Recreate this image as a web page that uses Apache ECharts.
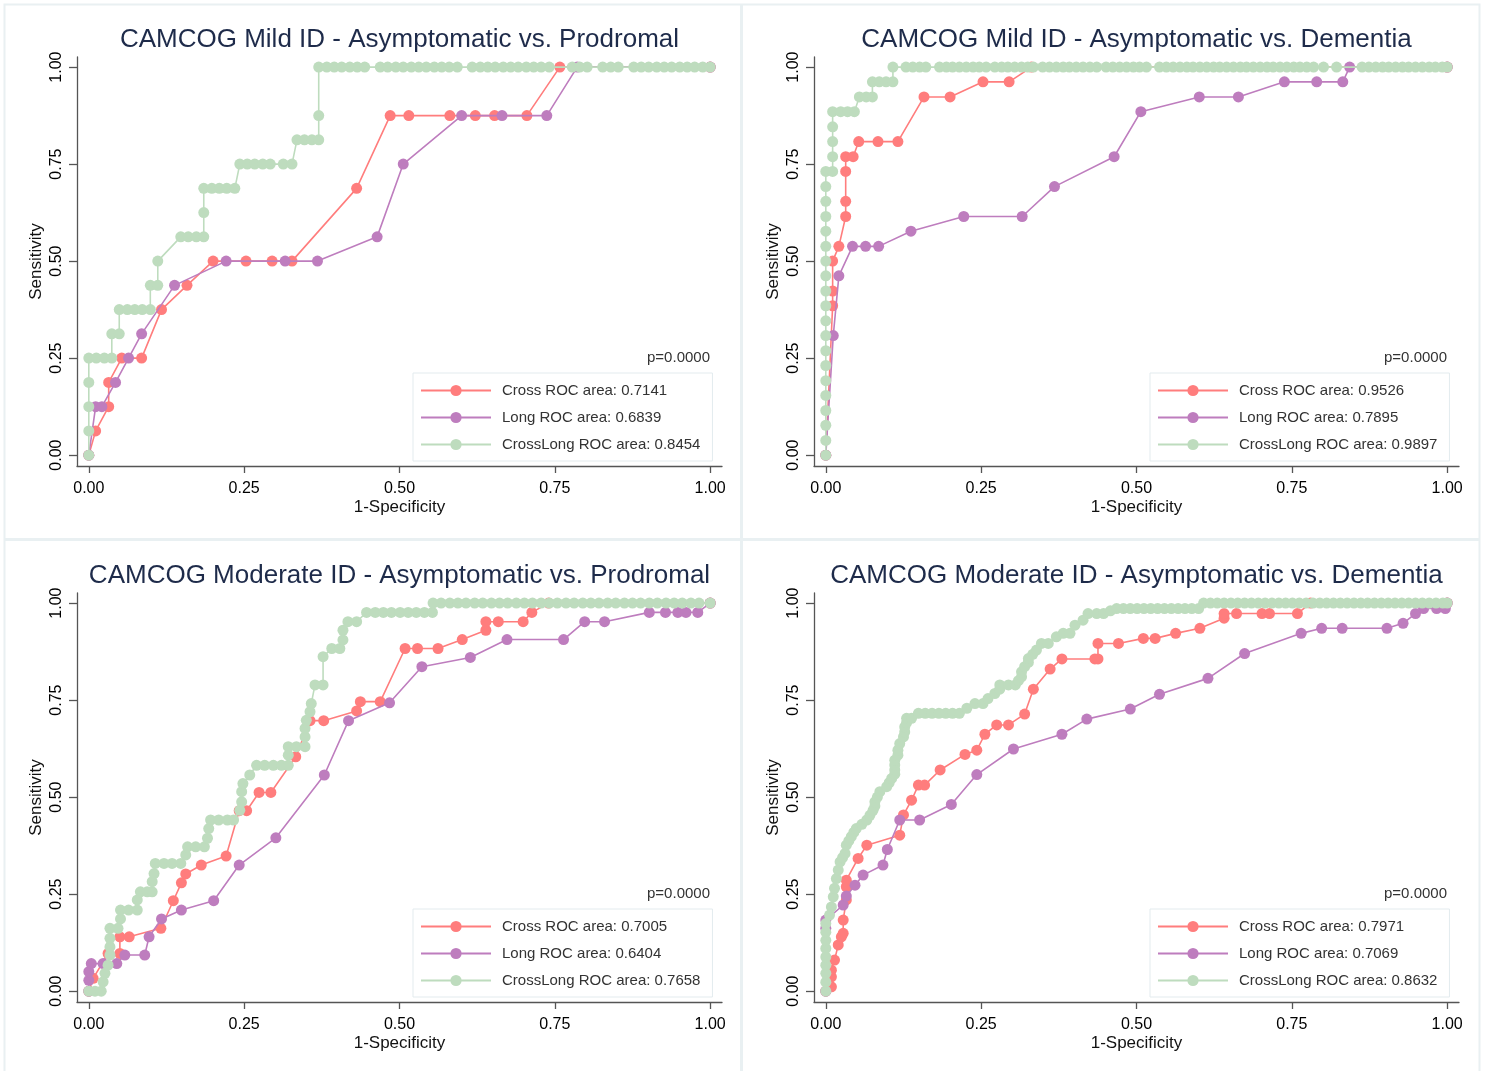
<!DOCTYPE html>
<html>
<head>
<meta charset="utf-8">
<script src="https://cdn.jsdelivr.net/npm/echarts@6/dist/echarts.min.js"></script>
<style>
html,body{margin:0;padding:0;background:#fff;}
#chart{width:1488px;height:1071px;}
</style>
</head>
<body>
<div id="chart"></div>
<script>
// ---------- Data ----------
const panelTitles = [
  'CAMCOG Mild ID - Asymptomatic vs. Prodromal',
  'CAMCOG Mild ID - Asymptomatic vs. Dementia',
  'CAMCOG Moderate ID - Asymptomatic vs. Prodromal',
  'CAMCOG Moderate ID - Asymptomatic vs. Dementia'
];
const crossAreas = ['0.7141', '0.9526', '0.7005', '0.7971'];
const longAreas = ['0.6839', '0.7895', '0.6404', '0.7069'];
const crossLongAreas = ['0.8454', '0.9897', '0.7658', '0.8632'];
const pValues = ['p=0.0000', 'p=0.0000', 'p=0.0000', 'p=0.0000'];
const tickValues = [0, 0.25, 0.5, 0.75, 1];

// Panel 1: Mild ID, Asymptomatic vs Prodromal  ([1-specificity, sensitivity])
const p1Cross = [[0,0],[0.011,0.0625],[0.032,0.125],[0.032,0.1875],[0.053,0.25],[0.085,0.25],[0.117,0.375],[0.158,0.4375],[0.2,0.5],[0.253,0.5],[0.295,0.5],[0.327,0.5],[0.431,0.6875],[0.485,0.875],[0.515,0.875],[0.581,0.875],[0.622,0.875],[0.653,0.875],[0.705,0.875],[0.758,1],[1,1]];
const p1Long = [[0,0],[0.011,0.125],[0.021,0.125],[0.043,0.1875],[0.064,0.25],[0.085,0.3125],[0.138,0.4375],[0.221,0.5],[0.316,0.5],[0.368,0.5],[0.464,0.5625],[0.506,0.75],[0.6,0.875],[0.665,0.875],[0.737,0.875],[0.786,1],[1,1]];
const p1CrossLong = [[0,0],[0,0.0625],[0,0.125],[0,0.1875],[0,0.25],[0.012,0.25],[0.025,0.25],[0.037,0.25],[0.037,0.3125],[0.049,0.3125],[0.049,0.375],[0.062,0.375],[0.074,0.375],[0.086,0.375],[0.099,0.375],[0.099,0.4375],[0.111,0.4375],[0.111,0.5],[0.148,0.5625],[0.16,0.5625],[0.173,0.5625],[0.185,0.5625],[0.185,0.625],[0.185,0.6875],[0.198,0.6875],[0.21,0.6875],[0.222,0.6875],[0.235,0.6875],[0.243,0.75],[0.255,0.75],[0.267,0.75],[0.28,0.75],[0.292,0.75],[0.313,0.75],[0.327,0.75],[0.335,0.8125],[0.347,0.8125],[0.359,0.8125],[0.37,0.8125],[0.37,0.875]];
const p1CrossLongTop = [0.37,0.383,0.395,0.407,0.42,0.432,0.444,0.469,0.481,0.494,0.506,0.519,0.531,0.543,0.556,0.568,0.58,0.593,0.617,0.63,0.642,0.654,0.667,0.679,0.691,0.704,0.716,0.728,0.741,0.778,0.79,0.802,0.827,0.84,0.852,0.877,0.889,0.901,0.914,0.926,0.938,0.951,0.963,0.975,0.988,1];

// Panel 2: Mild ID, Asymptomatic vs Dementia
const p2Cross = [[0,0],[0.011,0.385],[0.011,0.423],[0.011,0.5],[0.021,0.538],[0.032,0.615],[0.032,0.654],[0.032,0.731],[0.032,0.769],[0.044,0.769],[0.053,0.808],[0.084,0.808],[0.116,0.808],[0.158,0.923],[0.2,0.923],[0.253,0.962],[0.295,0.962],[0.331,1],[1,1]];
const p2Long = [[0,0],[0.012,0.308],[0.021,0.462],[0.043,0.538],[0.064,0.538],[0.085,0.538],[0.137,0.577],[0.222,0.615],[0.316,0.615],[0.368,0.692],[0.464,0.769],[0.507,0.885],[0.601,0.923],[0.664,0.923],[0.738,0.962],[0.79,0.962],[0.832,0.962],[0.843,1],[1,1]];
const p2CrossLong = [[0,0],[0,0.038],[0,0.077],[0,0.115],[0,0.154],[0,0.192],[0,0.231],[0,0.269],[0,0.308],[0,0.346],[0,0.385],[0,0.423],[0,0.462],[0,0.5],[0,0.538],[0,0.577],[0,0.615],[0,0.654],[0,0.692],[0,0.731],[0.011,0.731],[0.011,0.769],[0.011,0.808],[0.011,0.846],[0.011,0.885],[0.024,0.885],[0.035,0.885],[0.046,0.885],[0.054,0.923],[0.065,0.923],[0.075,0.923],[0.075,0.962],[0.086,0.962],[0.097,0.962],[0.108,0.962]];
const p2CrossLongTop = [0.108,0.129,0.14,0.151,0.161,0.183,0.194,0.204,0.215,0.226,0.237,0.247,0.258,0.272,0.283,0.293,0.304,0.315,0.325,0.334,0.349,0.36,0.371,0.382,0.392,0.403,0.414,0.425,0.436,0.451,0.462,0.473,0.484,0.495,0.505,0.516,0.537,0.548,0.559,0.57,0.581,0.591,0.602,0.613,0.624,0.634,0.645,0.656,0.667,0.677,0.688,0.699,0.71,0.72,0.731,0.742,0.753,0.763,0.774,0.785,0.801,0.822,0.863,0.874,0.885,0.896,0.906,0.917,0.928,0.938,0.949,0.96,0.971,0.981,0.992,1];

// Panel 3: Moderate ID, Asymptomatic vs Prodromal
const p3Cross = [[0,0],[0.007,0.033],[0.031,0.097],[0.05,0.097],[0.05,0.14],[0.065,0.14],[0.116,0.162],[0.136,0.233],[0.149,0.279],[0.156,0.302],[0.181,0.325],[0.221,0.348],[0.242,0.465],[0.254,0.465],[0.274,0.512],[0.293,0.512],[0.333,0.604],[0.356,0.697],[0.378,0.697],[0.431,0.722],[0.437,0.746],[0.469,0.746],[0.509,0.883],[0.529,0.883],[0.562,0.883],[0.601,0.906],[0.639,0.93],[0.639,0.952],[0.659,0.952],[0.699,0.952],[0.713,0.976],[0.74,1],[1,1]];
const p3Long = [[0,0],[0,0.028],[0,0.05],[0.004,0.071],[0.023,0.071],[0.045,0.071],[0.058,0.093],[0.09,0.093],[0.097,0.14],[0.117,0.186],[0.149,0.209],[0.201,0.233],[0.242,0.325],[0.301,0.395],[0.379,0.557],[0.418,0.697],[0.484,0.743],[0.536,0.836],[0.614,0.86],[0.673,0.906],[0.764,0.906],[0.798,0.952],[0.83,0.952],[0.902,0.976],[0.928,0.976],[0.948,0.976],[0.961,0.976],[0.98,0.976],[1,1]];
const p3CrossLong = [[0,0],[0.01,0],[0.02,0],[0.023,0.024],[0.026,0.046],[0.031,0.067],[0.034,0.093],[0.034,0.114],[0.034,0.136],[0.034,0.162],[0.047,0.162],[0.051,0.186],[0.051,0.209],[0.064,0.209],[0.078,0.209],[0.078,0.235],[0.083,0.256],[0.094,0.256],[0.102,0.256],[0.102,0.282],[0.105,0.303],[0.107,0.329],[0.121,0.329],[0.134,0.329],[0.148,0.329],[0.156,0.351],[0.159,0.372],[0.172,0.372],[0.186,0.372],[0.191,0.394],[0.193,0.419],[0.196,0.441],[0.209,0.441],[0.223,0.441],[0.233,0.441],[0.243,0.466],[0.246,0.488],[0.246,0.514],[0.248,0.535],[0.259,0.557],[0.27,0.582],[0.283,0.582],[0.297,0.582],[0.31,0.582],[0.321,0.582],[0.321,0.608],[0.321,0.63],[0.334,0.63],[0.348,0.63],[0.348,0.655],[0.348,0.677],[0.35,0.698],[0.356,0.72],[0.358,0.741],[0.364,0.789],[0.377,0.789],[0.377,0.862],[0.391,0.883],[0.404,0.883],[0.409,0.905],[0.409,0.93],[0.417,0.952],[0.431,0.952],[0.447,0.976],[0.461,0.976],[0.474,0.976],[0.487,0.976],[0.501,0.976],[0.514,0.976],[0.527,0.976],[0.54,0.976],[0.553,0.976]];
const p3CrossLongTop = [0.554,0.567,0.581,0.594,0.607,0.621,0.634,0.648,0.661,0.674,0.688,0.701,0.714,0.728,0.741,0.754,0.768,0.781,0.795,0.808,0.821,0.835,0.848,0.862,0.875,0.888,0.902,0.915,0.929,0.942,0.955,0.969,0.982,1];

// Panel 4: Moderate ID, Asymptomatic vs Dementia
const p4Cross = [[0,0],[0.009,0.011],[0.009,0.037],[0.009,0.054],[0.014,0.08],[0.02,0.119],[0.025,0.14],[0.028,0.149],[0.028,0.183],[0.033,0.235],[0.033,0.269],[0.033,0.286],[0.052,0.342],[0.066,0.376],[0.119,0.402],[0.125,0.454],[0.138,0.492],[0.149,0.531],[0.159,0.531],[0.184,0.57],[0.224,0.61],[0.243,0.621],[0.256,0.662],[0.275,0.686],[0.294,0.686],[0.32,0.714],[0.334,0.778],[0.361,0.83],[0.38,0.856],[0.433,0.856],[0.438,0.856],[0.438,0.896],[0.471,0.896],[0.511,0.909],[0.53,0.909],[0.563,0.922],[0.602,0.935],[0.641,0.961],[0.641,0.973],[0.661,0.973],[0.702,0.973],[0.714,0.973],[0.759,0.973],[0.78,1],[1,1]];
const p4Long = [[0,0],[0,0.162],[0,0.183],[0.028,0.222],[0.033,0.245],[0.047,0.273],[0.06,0.299],[0.092,0.325],[0.099,0.365],[0.119,0.441],[0.151,0.441],[0.202,0.481],[0.243,0.558],[0.302,0.624],[0.38,0.662],[0.42,0.701],[0.49,0.727],[0.537,0.765],[0.615,0.806],[0.674,0.87],[0.765,0.922],[0.798,0.935],[0.831,0.935],[0.903,0.935],[0.929,0.948],[0.949,0.973],[0.962,0.986],[0.983,0.986],[0.997,0.986],[1,1]];
const p4CrossLong = [[0,0],[0,0.023],[0,0.046],[0,0.067],[0,0.088],[0,0.11],[0,0.131],[0,0.152],[0,0.174],[0.006,0.196],[0.009,0.217],[0.012,0.243],[0.014,0.265],[0.017,0.29],[0.02,0.312],[0.023,0.333],[0.027,0.344],[0.031,0.355],[0.033,0.376],[0.037,0.387],[0.041,0.398],[0.045,0.409],[0.049,0.419],[0.058,0.43],[0.066,0.441],[0.071,0.453],[0.076,0.466],[0.079,0.477],[0.079,0.488],[0.083,0.5],[0.087,0.514],[0.098,0.527],[0.102,0.537],[0.106,0.548],[0.111,0.559],[0.111,0.57],[0.111,0.583],[0.111,0.595],[0.116,0.608],[0.116,0.621],[0.119,0.638],[0.125,0.655],[0.127,0.668],[0.127,0.681],[0.13,0.692],[0.13,0.703],[0.138,0.703],[0.149,0.716],[0.16,0.716],[0.171,0.716],[0.182,0.716],[0.193,0.716],[0.204,0.716],[0.215,0.716],[0.227,0.729],[0.24,0.741],[0.253,0.741],[0.261,0.754],[0.272,0.767],[0.28,0.778],[0.28,0.789],[0.294,0.789],[0.305,0.789],[0.31,0.8],[0.315,0.81],[0.315,0.823],[0.32,0.836],[0.326,0.847],[0.326,0.857],[0.333,0.868],[0.339,0.879],[0.347,0.896],[0.358,0.896],[0.371,0.913],[0.382,0.922],[0.393,0.922],[0.401,0.943],[0.414,0.956],[0.422,0.973],[0.436,0.973],[0.447,0.973],[0.458,0.98],[0.468,0.986],[0.479,0.986],[0.49,0.986],[0.501,0.986],[0.512,0.986],[0.523,0.986],[0.534,0.986],[0.545,0.986],[0.556,0.986],[0.567,0.986],[0.578,0.986],[0.589,0.986],[0.6,0.986]];
const p4CrossLongTop = [0.608,0.619,0.63,0.641,0.652,0.663,0.674,0.685,0.696,0.707,0.718,0.729,0.74,0.751,0.762,0.773,0.784,0.795,0.806,0.817,0.828,0.839,0.85,0.861,0.872,0.883,0.894,0.905,0.916,0.927,0.938,0.949,0.96,0.971,0.982,0.993,1];

// ---------- Build ----------
const crossData = [p1Cross, p2Cross, p3Cross, p4Cross];
const longData = [p1Long, p2Long, p3Long, p4Long];
const crossLongData = [
  p1CrossLong.concat(p1CrossLongTop.map(x => [x, 1])),
  p2CrossLong.concat(p2CrossLongTop.map(x => [x, 1])),
  p3CrossLong.concat(p3CrossLongTop.map(x => [x, 1])),
  p4CrossLong.concat(p4CrossLongTop.map(x => [x, 1]))
];

const RED = '#ff7d7d', PURPLE = '#be7dbe', GREEN = '#bedcbe';
const FONT = '"Liberation Sans", Arial, sans-serif';
const gridPos = [
  {left: 77, top: 57}, {left: 814, top: 57},
  {left: 77, top: 593}, {left: 814, top: 593}
];
const GW = 645, GH = 409;

const option = {
  animation: false,
  backgroundColor: '#ffffff',
  textStyle: {fontFamily: FONT},
  title: [], grid: [], xAxis: [], yAxis: [], legend: [], series: [],
  graphic: []
};

// panel frames
option.graphic.push({type: 'rect', shape: {x: 4.5, y: 4.5, width: 1475, height: 1070}, style: {fill: 'none', stroke: '#e9f0f2', lineWidth: 2}, silent: true, z: -10});
option.graphic.push({type: 'line', shape: {x1: 741.5, y1: 4, x2: 741.5, y2: 1071}, style: {stroke: '#e9f0f2', lineWidth: 3}, silent: true, z: -10});
option.graphic.push({type: 'line', shape: {x1: 4, y1: 539.5, x2: 1480, y2: 539.5}, style: {stroke: '#e9f0f2', lineWidth: 3}, silent: true, z: -10});

for (let i = 0; i < 4; i++) {
  const g = gridPos[i];
  option.grid.push({left: g.left, top: g.top, width: GW, height: GH, containLabel: false});
  option.title.push({
    text: panelTitles[i], left: g.left + GW / 2, top: g.top - 30, textAlign: 'center', padding: 0,
    textStyle: {fontFamily: FONT, fontSize: 26, fontWeight: 'normal', color: '#1e2b4a'}
  });
  option.xAxis.push({
    type: 'value', gridIndex: i, min: -0.019, max: 1.019,
    name: '1-Specificity', nameLocation: 'middle', nameGap: 33,
    nameTextStyle: {fontFamily: FONT, fontSize: 17, color: '#111'},
    axisLine: {show: true, onZero: false, lineStyle: {color: '#555', width: 1.3}},
    axisTick: {show: true, length: 7, customValues: tickValues, lineStyle: {color: '#555', width: 1.3}},
    axisLabel: {customValues: tickValues, margin: 15, fontFamily: FONT, fontSize: 16, color: '#000', formatter: v => v.toFixed(2)},
    splitLine: {show: false}
  });
  option.yAxis.push({
    type: 'value', gridIndex: i, min: -0.028, max: 1.026,
    name: 'Sensitivity', nameLocation: 'middle', nameGap: 32, nameRotate: 90,
    nameTextStyle: {fontFamily: FONT, fontSize: 17, color: '#111'},
    axisLine: {show: true, onZero: false, lineStyle: {color: '#555', width: 1.3}},
    axisTick: {show: true, length: 8, customValues: tickValues, lineStyle: {color: '#555', width: 1.3}},
    axisLabel: {customValues: tickValues, rotate: 90, margin: 12, fontFamily: FONT, fontSize: 16, color: '#000', formatter: v => v.toFixed(2)},
    splitLine: {show: false}
  });
  const names = ['Cross ROC area: ' + crossAreas[i], 'Long ROC area: ' + longAreas[i], 'CrossLong ROC area: ' + crossLongAreas[i]];
  const cols = [RED, PURPLE, GREEN];
  const datas = [crossData[i], longData[i], crossLongData[i]];
  for (let s = 0; s < 3; s++) {
    option.series.push({
      type: 'line', name: names[s], xAxisIndex: i, yAxisIndex: i,
      data: datas[s], symbol: 'circle', symbolSize: 11, showAllSymbol: true,
      lineStyle: {color: cols[s], width: 1.6},
      itemStyle: {color: cols[s], borderWidth: 0},
      emphasis: {disabled: true}, z: 2 + s
    });
  }
  option.legend.push({
    data: names, orient: 'vertical', left: g.left + 336, top: g.top + 316,
    itemWidth: 70, itemHeight: 14, itemGap: 12,
    padding: [10, 12, 9, 7], borderColor: '#e3ebee', borderWidth: 1,
    selectedMode: false,
    textStyle: {fontFamily: FONT, fontSize: 15, color: '#333', padding: [0, 0, 0, 6]}
  });
  option.graphic.push({
    type: 'text', x: g.left + GW - 12, y: g.top + 301,
    style: {text: pValues[i], textAlign: 'right', textVerticalAlign: 'middle', font: '15px ' + FONT, fill: '#333'},
    silent: true
  });
}

const chart = echarts.init(document.getElementById('chart'), null, {renderer: 'canvas'});
chart.setOption(option);
</script>
</body>
</html>
